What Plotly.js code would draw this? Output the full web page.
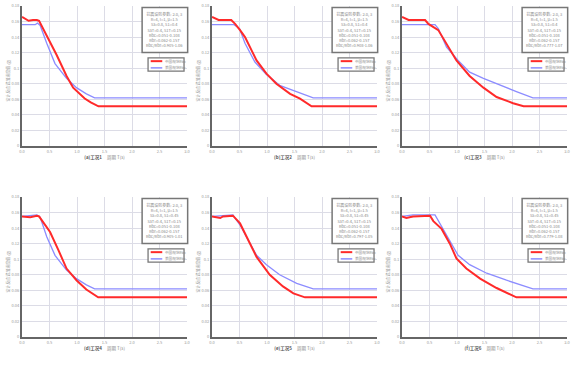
<!DOCTYPE html>
<html><head><meta charset="utf-8">
<script src="https://cdn.plot.ly/plotly-3.0.1.min.js"></script>
<style>html,body{margin:0;padding:0;background:#fff}#chart{width:577px;height:366px}</style>
</head><body><div id="chart"></div>
<script>
// ---- data ----
const panelLabels = ["(a)工况1", "(b)工况2", "(c)工况3", "(d)工况4", "(e)工况5", "(f)工况6"];
const xTickVals = [0, 0.5, 1.0, 1.5, 2.0, 2.5, 3.0];
const xTickText = ["0.0", "0.5", "1.0", "1.5", "2.0", "2.5", "3.0"];
const yTickVals = [0, 0.02, 0.04, 0.06, 0.08, 0.1, 0.12, 0.14, 0.16, 0.18];
const yTickText = ["0", "0.02", "0.04", "0.06", "0.08", "0.1", "0.12", "0.14", "0.16", "0.18"];
const seriesNames = ["中国规范Rbc", "美国规范Rbr"];

const tA_cn = [0, 0.05, 0.12, 0.2, 0.27, 0.31, 0.4, 0.5, 0.63, 0.81, 0.93, 1.14, 1.25, 1.39, 3.0];
const vA_cn = [0.166, 0.164, 0.161, 0.162, 0.162, 0.161, 0.149, 0.136, 0.117, 0.090, 0.075, 0.061, 0.056, 0.051, 0.051];
const tA_us = [0, 0.24, 0.28, 0.33, 0.45, 0.6, 0.81, 0.99, 1.17, 1.32, 3.0];
const vA_us = [0.156, 0.156, 0.158, 0.155, 0.132, 0.106, 0.087, 0.075, 0.067, 0.062, 0.062];

const tB_cn = [0, 0.05, 0.12, 0.35, 0.42, 0.51, 0.6, 0.72, 0.81, 0.99, 1.17, 1.42, 1.6, 1.81, 3.0];
const vB_cn = [0.166, 0.164, 0.162, 0.162, 0.157, 0.149, 0.140, 0.123, 0.110, 0.093, 0.080, 0.067, 0.061, 0.051, 0.051];
const tB_us = [0, 0.4, 0.5, 0.6, 0.78, 0.99, 1.23, 1.54, 1.84, 3.0];
const vB_us = [0.156, 0.156, 0.151, 0.132, 0.108, 0.092, 0.078, 0.070, 0.062, 0.062];

const tC_cn = [0, 0.05, 0.12, 0.42, 0.48, 0.66, 0.81, 0.99, 1.23, 1.48, 1.72, 2.02, 2.21, 3.0];
const vC_cn = [0.166, 0.164, 0.162, 0.162, 0.157, 0.149, 0.132, 0.110, 0.090, 0.075, 0.063, 0.055, 0.051, 0.051];
const tC_us = [0, 0.6, 0.66, 0.81, 1.02, 1.23, 1.48, 1.78, 2.08, 2.38, 3.0];
const vC_us = [0.156, 0.156, 0.151, 0.127, 0.110, 0.095, 0.087, 0.078, 0.070, 0.062, 0.062];

const tD_cn = [0, 0.08, 0.15, 0.27, 0.31, 0.4, 0.51, 0.66, 0.81, 0.99, 1.17, 1.385, 3.0];
const vD_cn = [0.155, 0.154, 0.154, 0.156, 0.155, 0.146, 0.135, 0.112, 0.088, 0.073, 0.061, 0.051, 0.051];
const tD_us = [0, 0.1, 0.27, 0.33, 0.45, 0.6, 0.81, 0.99, 1.17, 1.32, 3.0];
const vD_us = [0.155, 0.156, 0.157, 0.154, 0.129, 0.105, 0.086, 0.075, 0.067, 0.062, 0.062];

const tE_cn = [0, 0.08, 0.15, 0.2, 0.38, 0.51, 0.66, 0.81, 1.05, 1.29, 1.48, 1.69, 3.0];
const vE_cn = [0.155, 0.154, 0.153, 0.155, 0.156, 0.146, 0.125, 0.103, 0.080, 0.065, 0.056, 0.051, 0.051];
const tE_us = [0, 0.38, 0.51, 0.66, 0.81, 0.99, 1.23, 1.54, 1.84, 3.0];
const vE_us = [0.155, 0.157, 0.144, 0.125, 0.105, 0.093, 0.080, 0.069, 0.062, 0.062];

const tF_cn = [0, 0.08, 0.2, 0.51, 0.57, 0.72, 0.87, 0.99, 1.17, 1.42, 1.72, 2.08, 3.0];
const vF_cn = [0.155, 0.153, 0.155, 0.156, 0.149, 0.139, 0.120, 0.101, 0.088, 0.075, 0.063, 0.051, 0.051];
const tF_us = [0, 0.2, 0.6, 0.72, 0.87, 1.02, 1.23, 1.54, 1.9, 2.38, 3.0];
const vF_us = [0.155, 0.157, 0.157, 0.142, 0.122, 0.105, 0.093, 0.082, 0.073, 0.062, 0.062];

const infoTexts = [
  ["抗震设防参数: 2.0, 3", "R=4, I=1, μ=1.5", "Ss=0.8, S1=0.4", "SsT=0.4, S1T=0.15", "Rbc=0.051-0.108", "Rbr=0.062-0.157", "Rbc/Rbr=0.905-1.06"],
  ["抗震设防参数: 2.0, 3", "R=4, I=1, μ=1.5", "Ss=0.8, S1=0.4", "SsT=0.4, S1T=0.15", "Rbc=0.051-0.108", "Rbr=0.062-0.157", "Rbc/Rbr=0.908-1.06"],
  ["抗震设防参数: 2.0, 3", "R=4, I=1, μ=1.5", "Ss=0.8, S1=0.4", "SsT=0.4, S1T=0.15", "Rbc=0.051-0.108", "Rbr=0.062-0.157", "Rbc/Rbr=0.777-1.07"],
  ["抗震设防参数: 2.0, 3", "R=4, I=1, μ=1.5", "Ss=0.8, S1=0.45", "SsT=0.4, S1T=0.15", "Rbc=0.051-0.108", "Rbr=0.062-0.157", "Rbc/Rbr=0.905-1.01"],
  ["抗震设防参数: 2.0, 3", "R=4, I=1, μ=1.5", "Ss=0.8, S1=0.45", "SsT=0.4, S1T=0.15", "Rbc=0.051-0.108", "Rbr=0.062-0.157", "Rbc/Rbr=0.797-1.05"],
  ["抗震设防参数: 2.0, 3", "R=4, I=1, μ=1.5", "Ss=0.8, S1=0.45", "SsT=0.4, S1T=0.15", "Rbc=0.051-0.108", "Rbr=0.062-0.157", "Rbc/Rbr=0.779-1.08"]
];
const yTitle = "设计反应谱加速度值 (g)";
const xTitle = "周期 T(s)";

// ---- build ----
const panels = [
  [tA_cn, vA_cn, tA_us, vA_us], [tB_cn, vB_cn, tB_us, vB_us], [tC_cn, vC_cn, tC_us, vC_us],
  [tD_cn, vD_cn, tD_us, vD_us], [tE_cn, vE_cn, tE_us, vE_us], [tF_cn, vF_cn, tF_us, vF_us]
];
const W = 577, H = 366;
const colPx = [[22, 187], [212, 377], [402, 567]];
const rowPx = [[6, 146], [197, 337]];
const FONT = "Noto Sans CJK SC, DejaVu Sans, sans-serif";
const RED = "#ff2a2a", BLUE = "#8c8cff";

const data = [];
const layout = {
  width: W, height: H, margin: {l: 0, r: 0, t: 0, b: 0},
  paper_bgcolor: "#fff", plot_bgcolor: "#fff", showlegend: false,
  font: {family: FONT, size: 4, color: "#999"},
  annotations: [], shapes: []
};

panels.forEach((p, i) => {
  const r = Math.floor(i / 3), c = i % 3;
  const xa = i === 0 ? "x" : "x" + (i + 1);
  const ya = i === 0 ? "y" : "y" + (i + 1);
  const xk = i === 0 ? "xaxis" : "xaxis" + (i + 1);
  const yk = i === 0 ? "yaxis" : "yaxis" + (i + 1);
  data.push({x: p[2], y: p[3], xaxis: xa, yaxis: ya, type: "scatter", mode: "lines", name: seriesNames[1],
    line: {color: BLUE, width: 1.3}, hoverinfo: "skip"});
  data.push({x: p[0], y: p[1], xaxis: xa, yaxis: ya, type: "scatter", mode: "lines", name: seriesNames[0],
    line: {color: RED, width: 2}, hoverinfo: "skip"});
  layout[xk] = {
    domain: [colPx[c][0] / W, colPx[c][1] / W], anchor: ya, range: [0, 3],
    tickvals: xTickVals, ticktext: xTickText, tickfont: {size: 4, color: "#999"},
    showgrid: true, gridcolor: "#dcdce6", gridwidth: 1, zeroline: false,
    showline: true, linecolor: "#666", linewidth: 2, ticks: "", ticklen: 0,
    title: {text: "<b style='color:#555'>" + panelLabels[i] + "</b>&nbsp;&nbsp;&nbsp;&nbsp;&nbsp;" + xTitle,
      font: {size: 4.5, color: "#888"}, standoff: 2},
    automargin: false, fixedrange: true
  };
  layout[yk] = {
    domain: [1 - rowPx[r][1] / H, 1 - rowPx[r][0] / H], anchor: xa, range: [0, 0.18],
    tickvals: yTickVals, ticktext: yTickText, tickfont: {size: 4, color: "#999"},
    showgrid: true, gridcolor: "#dcdce6", gridwidth: 1, zeroline: false,
    showline: true, linecolor: "#666", linewidth: 2, ticks: "", ticklen: 0,
    automargin: false, fixedrange: true
  };
  const xd = xa + " domain", yd = ya + " domain";
  // y title
  layout.annotations.push({xref: xd, yref: yd, x: -0.082, y: 0.47, text: yTitle, textangle: -90,
    showarrow: false, font: {size: 4, color: "#999"}, xanchor: "center", yanchor: "middle"});
  // info box
  layout.shapes.push({type: "rect", xref: xd, yref: yd, x0: 0.728, x1: 1.004, y0: 0.668, y1: 0.99,
    line: {color: "#777", width: 1.5}, fillcolor: "#fff", layer: "above"});
  layout.annotations.push({xref: xd, yref: yd, x: 0.866, y: 0.829, text: infoTexts[i].join("<br>"),
    showarrow: false, font: {size: 4, color: "#888"}, align: "center", xanchor: "center", yanchor: "middle"});
  // legend box
  layout.shapes.push({type: "rect", xref: xd, yref: yd, x0: 0.764, x1: 0.982, y0: 0.535, y1: 0.63,
    line: {color: "#777", width: 1.3}, fillcolor: "#fff", layer: "above"});
  layout.shapes.push({type: "line", xref: xd, yref: yd, x0: 0.78, x1: 0.85, y0: 0.606, y1: 0.606,
    line: {color: RED, width: 2}, layer: "above"});
  layout.shapes.push({type: "line", xref: xd, yref: yd, x0: 0.78, x1: 0.85, y0: 0.558, y1: 0.558,
    line: {color: BLUE, width: 1.5}, layer: "above"});
  layout.annotations.push({xref: xd, yref: yd, x: 0.853, y: 0.606, text: seriesNames[0], showarrow: false,
    font: {size: 3.6, color: "#888"}, xanchor: "left", yanchor: "middle"});
  layout.annotations.push({xref: xd, yref: yd, x: 0.853, y: 0.558, text: seriesNames[1], showarrow: false,
    font: {size: 3.6, color: "#888"}, xanchor: "left", yanchor: "middle"});
});

Plotly.newPlot("chart", data, layout, {staticPlot: true, displayModeBar: false});
</script></body></html>
